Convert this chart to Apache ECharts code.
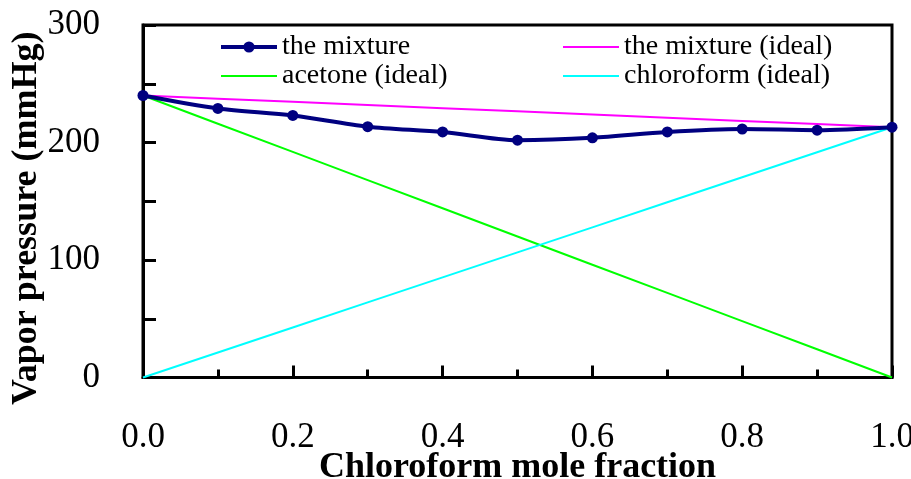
<!DOCTYPE html>
<html>
<head>
<meta charset="utf-8">
<script src="https://cdn.jsdelivr.net/npm/echarts@6/dist/echarts.min.js"></script>
<style>
  html, body { margin: 0; padding: 0; background: #fff; }
  #chart { width: 911px; height: 479px; }
</style>
</head>
<body>
<div id="chart"></div>
<script>
// Chloroform mole fraction
const moleFraction = [0.0, 0.1, 0.2, 0.3, 0.4, 0.5, 0.6, 0.7, 0.8, 0.9, 1.0];
// Measured total vapor pressure of the acetone/chloroform mixture (mmHg)
const mixture = [240, 229, 223, 213.5, 209, 202, 204, 209, 211.5, 210.5, 213];
// Raoult's law curves (mmHg)
const mixtureIdeal = [240, 237.3, 234.6, 231.9, 229.2, 226.5, 223.8, 221.1, 218.4, 215.7, 213];
const acetoneIdeal = [240, 216, 192, 168, 144, 120, 96, 72, 48, 24, 0];
const chloroformIdeal = [0, 21.3, 42.6, 63.9, 85.2, 106.5, 127.8, 149.1, 170.4, 191.7, 213];

const seriesNames = ['the mixture', 'the mixture (ideal)', 'acetone (ideal)', 'chloroform (ideal)'];

const pairs = ys => moleFraction.map((x, i) => [x, ys[i]]);
const serif = "'Liberation Serif', 'Times New Roman', serif";
const legendText = { fontFamily: serif, fontSize: 28, color: '#000' };

// legend entry: markers only for the measured series, plain line for the ideal ones
const legendItem = (name, withMarker, color, width) => ({
  name,
  textStyle: legendText,
  itemStyle: withMarker ? { color } : { opacity: 0 },
  lineStyle: { color, width }
});

const chart = echarts.init(document.getElementById('chart'), null, { renderer: 'canvas' });

const legendCommon = {
  orient: 'vertical',
  top: 33,
  itemWidth: 56,
  itemHeight: 14,
  itemGap: 1,
  textStyle: legendText,
  padding: 0
};

chart.setOption({
  animation: false,
  backgroundColor: '#fff',
  grid: {
    left: 143, right: 19, top: 25, bottom: 101.5,
    outerBoundsMode: 'none', containLabel: false,
    show: true, borderColor: '#000', borderWidth: 3, backgroundColor: 'transparent'
  },
  legend: [
    Object.assign({
      left: 219,
      data: [
        legendItem(seriesNames[0], true, '#000080', 4),
        legendItem(seriesNames[2], false, '#00ff00', 2)
      ]
    }, legendCommon),
    Object.assign({
      left: 562,
      data: [
        legendItem(seriesNames[1], false, '#ff00ff', 2),
        legendItem(seriesNames[3], false, '#00ffff', 2)
      ]
    }, legendCommon)
  ],
  xAxis: {
    type: 'value',
    min: 0, max: 1, interval: 0.2,
    name: 'Chloroform mole fraction',
    nameLocation: 'middle',
    nameGap: 72,
    nameMoveOverlap: false,
    nameTextStyle: { fontFamily: serif, fontSize: 36, fontWeight: 'bold', color: '#000' },
    axisLine: { show: true, lineStyle: { color: '#000', width: 3 } },
    axisTick: { show: true, inside: true, length: 12, lineStyle: { color: '#000', width: 3 } },
    minorTick: { show: true, splitNumber: 2, length: 8, lineStyle: { color: '#000', width: 3 } },
    splitLine: { show: false },
    axisLabel: {
      margin: 43, fontFamily: serif, fontSize: 35, color: '#000',
      formatter: v => v.toFixed(1)
    }
  },
  yAxis: {
    type: 'value',
    min: 0, max: 300, interval: 50,
    name: 'Vapor pressure (mmHg)',
    nameLocation: 'middle',
    nameGap: 98,
    nameMoveOverlap: false,
    nameRotate: 90,
    nameTextStyle: {
      fontFamily: serif, fontSize: 36, fontWeight: 'bold', color: '#000',
      padding: [0, 34, 0, 0]
    },
    axisLine: { show: true, lineStyle: { color: '#000', width: 3 } },
    axisTick: { show: true, inside: true, length: 13, lineStyle: { color: '#000', width: 3 } },
    splitLine: { show: false },
    axisLabel: {
      margin: 43, fontFamily: serif, fontSize: 35, color: '#000',
      formatter: v => (v % 100 === 0 ? String(v) : '')
    }
  },
  series: [
    {
      name: seriesNames[1], type: 'line', data: pairs(mixtureIdeal),
      showSymbol: false, symbol: 'none', clip: false, z: 2,
      lineStyle: { color: '#ff00ff', width: 2 }, itemStyle: { color: '#ff00ff' }
    },
    {
      name: seriesNames[2], type: 'line', data: pairs(acetoneIdeal),
      showSymbol: false, symbol: 'none', clip: false, z: 2,
      lineStyle: { color: '#00ff00', width: 2 }, itemStyle: { color: '#00ff00' }
    },
    {
      name: seriesNames[3], type: 'line', data: pairs(chloroformIdeal),
      showSymbol: false, symbol: 'none', clip: false, z: 2,
      lineStyle: { color: '#00ffff', width: 2 }, itemStyle: { color: '#00ffff' }
    },
    {
      name: seriesNames[0], type: 'line', data: pairs(mixture),
      smooth: 0.3, clip: false, z: 5,
      symbol: 'circle', symbolSize: 11,
      lineStyle: { color: '#000080', width: 4 },
      itemStyle: { color: '#000080', borderWidth: 0 }
    }
  ]
});
</script>
</body>
</html>
